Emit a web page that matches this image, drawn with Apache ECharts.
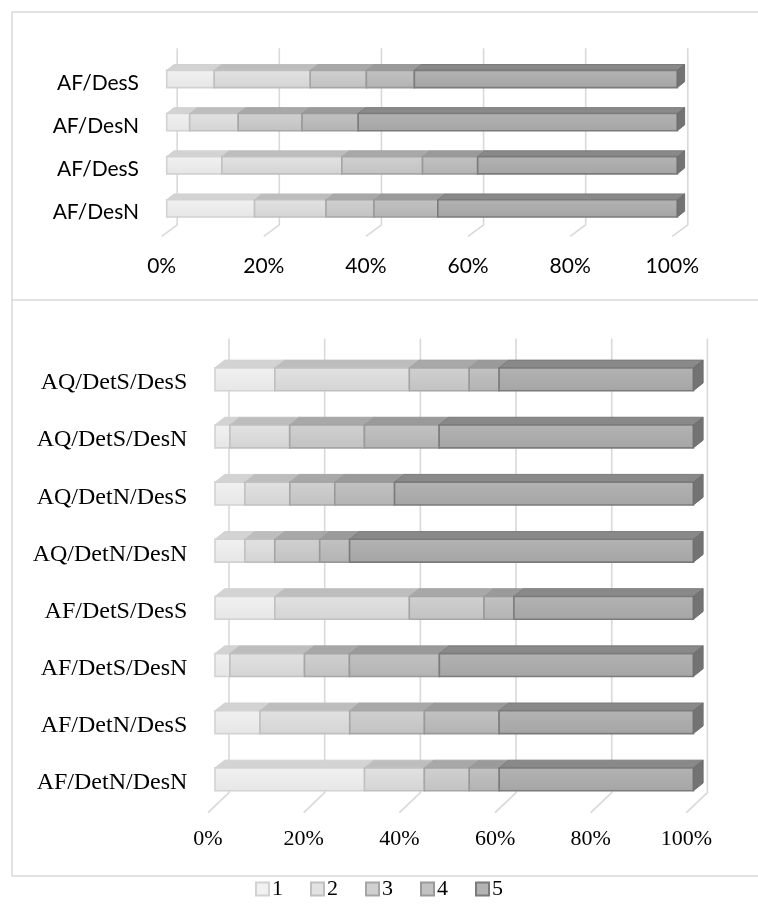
<!DOCTYPE html>
<html>
<head>
<meta charset="utf-8">
<script src="https://cdn.jsdelivr.net/npm/echarts@6/dist/echarts.min.js"></script>
<style>html,body{margin:0;padding:0;background:#fff}#c{width:758px;height:911px}</style>
</head>
<body>
<div id="c"></div>
<script>
// ---------- DATA ----------
// categories listed bottom -> top (ECharts category order)
const topCategories = ['AF/DesN', 'AF/DesS', 'AF/DesN', 'AF/DesS'];
const topLevel1 = [17.2, 10.8, 4.5, 9.3];
const topLevel2 = [14.0, 23.5, 9.5, 18.8];
const topLevel3 = [9.4, 15.8, 12.5, 11.0];
const topLevel4 = [12.5, 10.8, 11.0, 9.4];
const topLevel5 = [46.9, 39.1, 62.5, 51.5];

const bottomCategories = ['AF/DetN/DesN', 'AF/DetN/DesS', 'AF/DetS/DesN', 'AF/DetS/DesS',
                          'AQ/DetN/DesN', 'AQ/DetN/DesS', 'AQ/DetS/DesN', 'AQ/DetS/DesS'];
const bottomLevel1 = [31.25, 9.4, 3.1, 12.5, 6.25, 6.25, 3.1, 12.5];
const bottomLevel2 = [12.5, 18.75, 15.6, 28.1, 6.25, 9.4, 12.5, 28.1];
const bottomLevel3 = [9.4, 15.6, 9.4, 15.6, 9.4, 9.4, 15.6, 12.5];
const bottomLevel4 = [6.25, 15.6, 18.8, 6.25, 6.25, 12.5, 15.6, 6.25];
const bottomLevel5 = [40.6, 40.6, 53.1, 37.5, 71.9, 62.5, 53.1, 40.6];

const legendNames = ['1', '2', '3', '4', '5'];
const percentTicks = [0, 20, 40, 60, 80, 100];

// ---------- STYLE ----------
const frontTop = ['#f1f1f1', '#e2e2e2', '#d0d0d0', '#c2c2c2', '#b3b3b3'];
const frontBot = ['#e6e6e6', '#d4d4d4', '#c2c2c2', '#b3b3b3', '#a5a5a5'];
const topFace  = ['#d3d3d3', '#bdbdbd', '#a8a8a8', '#9a9a9a', '#898989'];
const sideFace = ['#c4c4c4', '#acacac', '#959595', '#868686', '#737373'];
const borderC  = ['#d2d2d2', '#c0c0c0', '#a6a6a6', '#999999', '#7b7b7b'];

const topLevels = [topLevel1, topLevel2, topLevel3, topLevel4, topLevel5];
const bottomLevels = [bottomLevel1, bottomLevel2, bottomLevel3, bottomLevel4, bottomLevel5];

function stackData(levels, ncat) {
  // 100% stacked: normalise each category by its total
  const out = levels.map(() => []);
  for (let c = 0; c < ncat; c++) {
    let total = 0;
    levels.forEach(l => total += l[c]);
    let acc = 0;
    levels.forEach((l, k) => {
      const s = acc / total * 100;
      acc += l[c];
      const e = acc / total * 100;
      out[k].push([c, s, e]);
    });
  }
  return out;
}
const topStack = stackData(topLevels, topCategories.length);
const bottomStack = stackData(bottomLevels, bottomCategories.length);

function makeBarRender(k, shiftRatio) {
  return function (params, api) {
    const cat = api.value(0), s = api.value(1), e = api.value(2);
    const p0 = api.coord([s, cat]);
    const p1 = api.coord([e, cat]);
    const band = api.size([0, 1])[1];
    const h = band * 0.40, dx = band * 0.17, dy = band * 0.135;
    const cy = p0[1] - band * shiftRatio;
    const x0 = p0[0], x1 = p1[0], yT = cy - h / 2, yB = cy + h / 2;
    const children = [
      { type: 'polygon', shape: { points: [[x0, yT], [x0 + dx, yT - dy], [x1 + dx, yT - dy], [x1, yT]] },
        style: { fill: topFace[k], stroke: borderC[k], lineWidth: 1 } },
      { type: 'rect', shape: { x: x0, y: yT, width: x1 - x0, height: h },
        style: { fill: new echarts.graphic.LinearGradient(0, 0, 0, 1, [{ offset: 0, color: frontTop[k] }, { offset: 1, color: frontBot[k] }]),
                 stroke: borderC[k], lineWidth: 1.6 } }
    ];
    if (k === 4) {
      children.push({ type: 'polygon', shape: { points: [[x1, yT], [x1 + dx, yT - dy], [x1 + dx, yB - dy], [x1, yB]] },
        style: { fill: sideFace[k], stroke: '#6f6f6f', lineWidth: 1 } });
    }
    return { type: 'group', children: children };
  };
}

function makeGridRender(backDx, topOff, backBottomOff, diagDx, diagDy) {
  return function (params, api) {
    const cs = params.coordSys;
    const x = api.coord([api.value(0), 0])[0];
    const bx = x + backDx;
    const yTop = cs.y - topOff;
    const yBB = cs.y + cs.height - backBottomOff;
    return { type: 'polyline',
      shape: { points: [[bx, yTop], [bx, yBB], [x + diagDx, cs.y + cs.height + diagDy]] },
      style: { stroke: '#d9d9d9', lineWidth: 1.6, fill: null } };
  };
}

const series = [];
// back gridlines
series.push({ type: 'custom', xAxisIndex: 0, yAxisIndex: 0, silent: true, z: 1,
  renderItem: makeGridRender(10.5, 13.4, 9.5, -5, 2), data: percentTicks.map(v => [v]) });
series.push({ type: 'custom', xAxisIndex: 1, yAxisIndex: 1, silent: true, z: 1,
  renderItem: makeGridRender(14, 16, 19, -7, 1), data: percentTicks.map(v => [v]) });

for (let k = 0; k < 5; k++) {
  const common = { type: 'custom', name: legendNames[k], z: 2 + k,
    itemStyle: { color: frontTop[k], borderColor: borderC[k], borderWidth: 1 },
    encode: { x: [1, 2], y: 0 } };
  series.push(Object.assign({}, common, { xAxisIndex: 0, yAxisIndex: 0,
    renderItem: makeBarRender(k, 0.10), data: topStack[k] }));
  series.push(Object.assign({}, common, { xAxisIndex: 1, yAxisIndex: 1,
    renderItem: makeBarRender(k, 0.065), data: bottomStack[k] }));
}

const chart = echarts.init(document.getElementById('c'), null, { renderer: 'canvas' });
chart.setOption({
  animation: false,
  backgroundColor: '#ffffff',
  grid: [
    { left: 166.7, top: 61.7, width: 510.6, height: 172.6 },
    { left: 215, top: 354.4, width: 478.4, height: 457.2 }
  ],
  xAxis: [
    { gridIndex: 0, type: 'value', min: 0, max: 100, interval: 20,
      splitLine: { show: false }, axisLine: { show: false }, axisTick: { show: false },
      axisLabel: { formatter: '{value}%', fontFamily: 'Lato', fontSize: 21, color: '#000', margin: 21, padding: [0, 10, 0, 0] } },
    { gridIndex: 1, type: 'value', min: 0, max: 100, interval: 20,
      splitLine: { show: false }, axisLine: { show: false }, axisTick: { show: false },
      axisLabel: { formatter: '{value}%', fontFamily: 'Liberation Serif', fontSize: 22, color: '#000', margin: 17, padding: [0, 14, 0, 0] } }
  ],
  yAxis: [
    { gridIndex: 0, type: 'category', data: topCategories,
      axisLine: { show: false }, axisTick: { show: false }, splitLine: { show: false },
      axisLabel: { fontFamily: 'Lato', fontSize: 21, color: '#000', margin: 27.7 } },
    { gridIndex: 1, type: 'category', data: bottomCategories,
      axisLine: { show: false }, axisTick: { show: false }, splitLine: { show: false },
      axisLabel: { fontFamily: 'Liberation Serif', fontSize: 24, color: '#000', margin: 27.7 } }
  ],
  legend: {
    data: legendNames, bottom: 6, left: 'center', icon: 'rect',
    itemWidth: 13, itemHeight: 13, itemGap: 27,
    textStyle: { fontFamily: 'Liberation Serif', fontSize: 22, color: '#000', padding: [0, 0, 0, -2] }
  },
  graphic: [
    { type: 'polyline', silent: true, shape: { points: [[758, 12], [12, 12], [12, 300], [758, 300]] },
      style: { stroke: '#d9d9d9', lineWidth: 1.5, fill: null } },
    { type: 'polyline', silent: true, shape: { points: [[12, 300], [12, 876], [758, 876]] },
      style: { stroke: '#d9d9d9', lineWidth: 1.5, fill: null } }
  ],
  series: series
});
</script>
</body>
</html>
